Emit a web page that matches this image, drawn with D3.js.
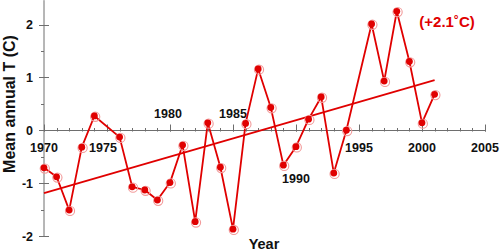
<!DOCTYPE html>
<html>
<head>
<meta charset="utf-8">
<script src="https://cdn.jsdelivr.net/npm/d3@7"></script>
<style>
  body { margin: 0; background: #fff; }
  text { font-family: "Liberation Sans", Arial, sans-serif; font-weight: bold; }
</style>
</head>
<body>
<svg width="500" height="252"></svg>
<script>
// yearly values (1975 and 1995 are absent in the source)
const years = [1970, 1971, 1972, 1973, 1974, 1976, 1977, 1978, 1979, 1980,
               1981, 1982, 1983, 1984, 1985, 1986, 1987, 1988, 1989, 1990,
               1991, 1992, 1993, 1994, 1996, 1997, 1998, 1999, 2000, 2001];
const temps = [-0.71, -0.88, -1.51, -0.32, 0.27, -0.13, -1.07, -1.13, -1.32, -0.99,
               -0.28, -1.73, 0.14, -0.70, -1.87, 0.13, 1.16, 0.43, -0.66, -0.31,
               0.21, 0.63, -0.81, 0.00, 2.01, 0.93, 2.25, 1.30, 0.14, 0.68];

// linear trend end points
const trendYears = [1970, 2001];
const trendTemps = [-1.19, 0.95];

const xTicks = [1970, 1975, 1980, 1985, 1990, 1995, 2000, 2005];
const xMinor = d3.range(1970, 2006);
const yTicks = [-2, -1, 0, 1, 2];
const yMinor = [-1.5, -0.5, 0.5, 1.5];
const yTop = 2.46;

const red = "#e00000";
const axisColor = "#6e6e6e";

const svg = d3.select("svg");

const x = d3.scaleLinear().domain([1970, 2005]).range([44, 485]);
const y = d3.scaleLinear().domain([-2, 2]).range([236, 24.5]);

// Y axis
const gy = svg.append("g").attr("transform", `translate(${x(1970)},0)`);
gy.append("line")
    .attr("y1", y(-2)).attr("y2", y(yTop))
    .attr("stroke", axisColor);
gy.selectAll(".minor")
    .data(yMinor)
    .join("line")
    .attr("x1", -3).attr("x2", 0)
    .attr("y1", d => Math.round(y(d)) + 0.5).attr("y2", d => Math.round(y(d)) + 0.5)
    .attr("stroke", axisColor);
gy.selectAll(".major")
    .data(yTicks)
    .join("line")
    .attr("x1", -5).attr("x2", 5)
    .attr("y1", d => Math.round(y(d)) + 0.5).attr("y2", d => Math.round(y(d)) + 0.5)
    .attr("stroke", axisColor);
gy.selectAll("text")
    .data(yTicks)
    .join("text")
    .attr("x", -11)
    .attr("y", d => y(d))
    .attr("dy", "0.36em")
    .attr("text-anchor", "end")
    .style("font-size", "12.5px")
    .attr("fill", "#111")
    .text(d => d);

// X axis
const x0 = Math.round(y(0)) + 0.5;
const gx = svg.append("g");
gx.append("line")
    .attr("x1", x(1970)).attr("x2", x(2005))
    .attr("y1", x0).attr("y2", x0)
    .attr("stroke", axisColor);
gx.selectAll(".minor")
    .data(xMinor)
    .join("line")
    .attr("x1", d => Math.round(x(d)) + 0.5).attr("x2", d => Math.round(x(d)) + 0.5)
    .attr("y1", x0 - 2.5).attr("y2", x0 + 1)
    .attr("stroke", axisColor);
gx.selectAll(".major")
    .data(xTicks)
    .join("line")
    .attr("x1", d => Math.round(x(d)) + 0.5).attr("x2", d => Math.round(x(d)) + 0.5)
    .attr("y1", x0 - 6).attr("y2", x0 + 1)
    .attr("stroke", axisColor);

// tick labels dodge the curve: some sit above the axis, one sits lower
const labelBase = d => (d === 1980 || d === 1985) ? x0 - 12.5 : (d === 1990 ? x0 + 52.5 : x0 + 21.5);
const labelShift = d => d === 1975 ? -4 : (d === 1980 ? -2 : 0);
gx.selectAll("text")
    .data(xTicks)
    .join("text")
    .attr("x", d => x(d) + labelShift(d))
    .attr("y", labelBase)
    .attr("text-anchor", "middle")
    .style("font-size", "12.5px")
    .attr("fill", "#111")
    .text(d => d);

// trend line
const trend = trendYears.map((d, i) => [d, trendTemps[i]]);
svg.append("path")
    .datum(trend)
    .attr("d", d3.line().x(d => x(d[0])).y(d => y(d[1])))
    .attr("fill", "none")
    .attr("stroke", red)
    .attr("stroke-width", 1.8);

// data series
const pts = years.map((d, i) => [d, temps[i]]);
svg.append("path")
    .datum(pts)
    .attr("d", d3.line().x(d => x(d[0])).y(d => y(d[1])))
    .attr("fill", "none")
    .attr("stroke", red)
    .attr("stroke-width", 1.8)
    .attr("stroke-linejoin", "round");

svg.append("g").selectAll("circle")
    .data(pts)
    .join("circle")
    .attr("cx", d => x(d[0]) + 0.8)
    .attr("cy", d => y(d[1]) + 0.8)
    .attr("r", 4.6)
    .attr("fill", "none")
    .attr("stroke", "#f29a9a")
    .attr("stroke-width", 1.1);

svg.append("g").selectAll("circle")
    .data(pts)
    .join("circle")
    .attr("cx", d => x(d[0]))
    .attr("cy", d => y(d[1]))
    .attr("r", 3.4)
    .attr("fill", red);

// titles
svg.append("text")
    .attr("transform", `translate(15,104) rotate(-90)`)
    .attr("text-anchor", "middle")
    .style("font-size", "16px")
    .attr("fill", "#111")
    .text("Mean annual T (C)");

svg.append("text")
    .attr("x", 264)
    .attr("y", 249)
    .attr("text-anchor", "middle")
    .style("font-size", "14.5px")
    .attr("fill", "#111")
    .text("Year");

svg.append("text")
    .attr("x", 447)
    .attr("y", 27)
    .attr("text-anchor", "middle")
    .style("font-size", "15px")
    .attr("fill", red)
    .text("(+2.1\u02DAC)");
</script>
</body>
</html>
